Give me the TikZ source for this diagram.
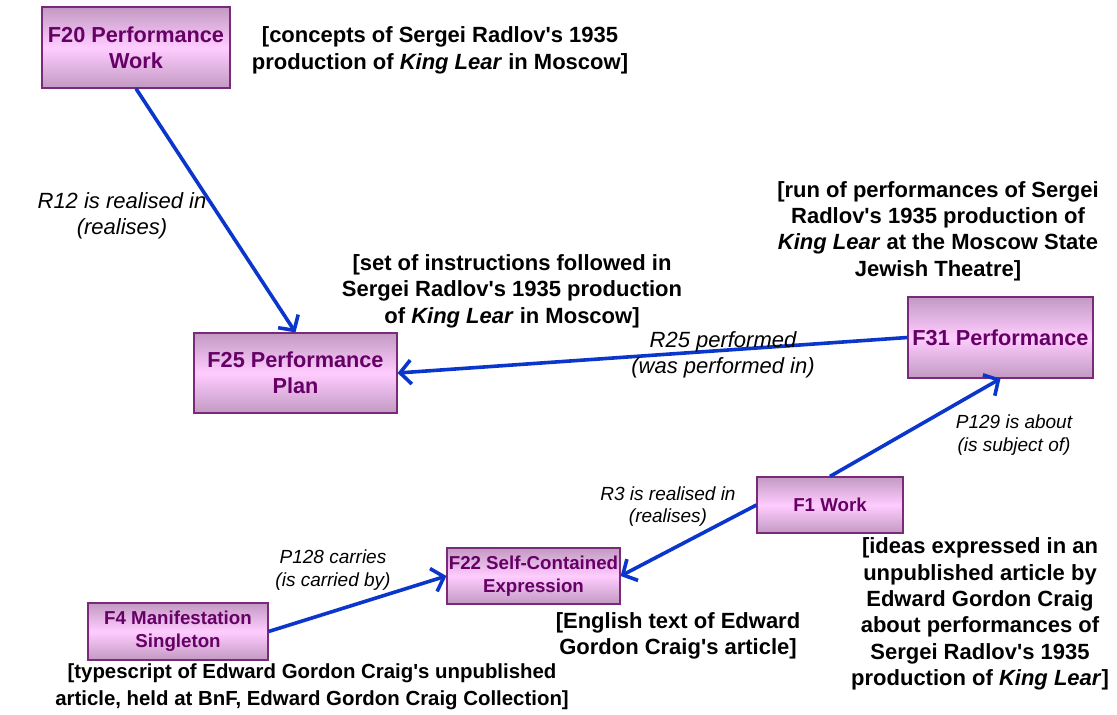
\documentclass[tikz,border=0pt]{standalone}
\usepackage{fontspec}
\setmainfont{Liberation Sans}
\usetikzlibrary{arrows.meta,shadings}
\newcommand\apos{\textquotesingle}
\definecolor{boxtext}{HTML}{660066}
\definecolor{boxborder}{HTML}{7A2A7A}
\definecolor{boxedge}{HTML}{C29AC2}
\definecolor{boxmid}{HTML}{FFCCFF}
\definecolor{arrowblue}{HTML}{0A36CC}
\tikzset{
  cls/.style={draw=boxborder, line width=1.2pt, top color=boxedge, bottom color=boxedge, middle color=boxmid,
    text=boxtext, align=center, inner sep=0pt},
  bigcls/.style={cls, font=\fontsize{21.7}{26}\selectfont\bfseries},
  smallcls/.style={cls, font=\fontsize{18.7}{23}\selectfont\bfseries},
  note/.style={align=center, font=\fontsize{22}{26.4}\selectfont\bfseries, inner sep=0pt},
  snote/.style={align=center, font=\fontsize{20.4}{27}\selectfont\bfseries, inner sep=0pt},
  rel/.style={align=center, font=\fontsize{22}{26.4}\selectfont\itshape, inner sep=0pt},
  srel/.style={align=center, font=\fontsize{19}{22.8}\selectfont\itshape, inner sep=0pt},
  link/.style={draw=arrowblue, line width=3.6pt, -{Straight Barb[length=11pt,width=24pt,line width=3.6pt]}},
}
\begin{document}
\begin{tikzpicture}[x=1pt,y=-1pt]
\useasboundingbox (0,0) rectangle (1117,715);
% classes
\node[bigcls, minimum width=188pt, minimum height=81pt] (f20) at (136,47.5) {F20 Performance\\Work};
\node[bigcls, minimum width=203pt, minimum height=80pt] (f25) at (295.5,373) {F25 Performance\\Plan};
\node[bigcls, minimum width=185pt, minimum height=81pt] (f31) at (1000.5,337.5) {F31 Performance};
\node[smallcls, minimum width=146pt, minimum height=56pt] (f1) at (830,505) {F1 Work};
\node[smallcls, minimum width=173pt, minimum height=56pt] (f22) at (533.5,576) {F22 Self-Contained\\Expression};
\node[smallcls, minimum width=180pt, minimum height=57pt] (f4) at (178,631.5) {F4 Manifestation\\Singleton};
% connectors
\draw[link] (f20.south) -- (f25.north);
\draw[link] (f31.west) -- (f25.east);
\draw[link] (f1.north) -- (f31.south);
\draw[link] (f1.west) -- (f22.east);
\draw[link] (f4.east) -- (f22.west);
% relation labels
\node[rel] (l12) at (122,216) {R12 is realised in\\(realises)};
\node[rel] (l25) at (723,355) {R25 performed\\(was performed in)};
\node[srel] (l129) at (1014,435) {P129 is about\\(is subject of)};
\node[srel] (l3) at (668,506.5) {R3 is realised in\\(realises)};
\node[srel] (l128) at (333,570) {P128 carries\\(is carried by)};
% annotations
\node[note] (n20) at (440,50.5) {[concepts of Sergei Radlov\apos s 1935\\production of \textit{King Lear} in Moscow]};
\node[note] (n25) at (512,291) {[set of instructions followed in\\Sergei Radlov\apos s 1935 production\\of \textit{King Lear} in Moscow]};
\node[note] (n31) at (938,231) {[run of performances of Sergei\\Radlov\apos s 1935 production of\\\textit{King Lear} at the Moscow State\\Jewish Theatre]};
\node[note] (n22) at (678,636) {[English text of Edward\\Gordon Craig\apos s article]};
\node[snote] (n4) at (312,687) {[typescript of Edward Gordon Craig\apos s unpublished\\article, held at BnF, Edward Gordon Craig Collection]};
\node[note] (n1) at (980,614) {[ideas expressed in an\\unpublished article by\\Edward Gordon Craig\\about performances of\\Sergei Radlov\apos s 1935\\production of \textit{King Lear}]};
\end{tikzpicture}
\end{document}
